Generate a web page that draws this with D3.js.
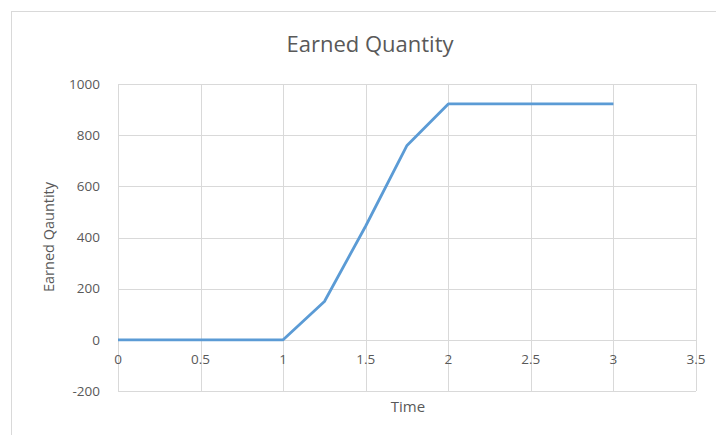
<!DOCTYPE html>
<html>
<head>
<meta charset="utf-8">
<script src="https://cdn.jsdelivr.net/npm/d3@7"></script>
<style>
  html, body { margin: 0; padding: 0; background: #fff; }
  svg { display: block; }
  text { font-family: "Open Sans", "Liberation Sans", sans-serif; fill: #595959; }
</style>
</head>
<body>
<svg id="chart" width="716" height="435"></svg>
<script>
// Series: time vs. earned quantity
const timeValues = [0, 0.5, 1, 1.25, 1.5, 1.75, 2, 2.5, 3];
const earnedValues = [0, 0, 0, 150, 445, 760, 922, 922, 922];
const xTicks = [0, 0.5, 1, 1.5, 2, 2.5, 3, 3.5];
const yTicks = [-200, 0, 200, 400, 600, 800, 1000];
const titleText = "Earned Quantity";
const xTitle = "Time";
const yTitle = "Earned Qauntity";

const svg = d3.select("#chart");
const plot = { left: 118, right: 696, top: 84, bottom: 391 };

const x = d3.scaleLinear().domain([0, 3.5]).range([plot.left, plot.right]);
const y = d3.scaleLinear().domain([-200, 1000]).range([plot.bottom, plot.top]);

// chart frame
svg.append("rect")
  .attr("x", 11.5).attr("y", 11.5)
  .attr("width", 760).attr("height", 460)
  .attr("fill", "#fff").attr("stroke", "#d9d9d9").attr("stroke-width", 1);

// gridlines
svg.append("g").selectAll("line").data(yTicks).join("line")
  .attr("x1", plot.left).attr("x2", plot.right)
  .attr("y1", d => Math.round(y(d)) + 0.5).attr("y2", d => Math.round(y(d)) + 0.5)
  .attr("stroke", "#d9d9d9").attr("stroke-width", 1);
svg.append("g").selectAll("line").data(xTicks).join("line")
  .attr("y1", plot.top).attr("y2", plot.bottom)
  .attr("x1", d => Math.round(x(d)) + 0.5).attr("x2", d => Math.round(x(d)) + 0.5)
  .attr("stroke", "#d9d9d9").attr("stroke-width", 1);

// y tick labels
svg.append("g").selectAll("text").data(yTicks).join("text")
  .attr("x", 100).attr("y", d => y(d))
  .attr("dy", "0.35em")
  .attr("text-anchor", "end")
  .style("font-size", "13.5px")
  .text(d => d);

// x tick labels sit along the zero line
svg.append("g").selectAll("text").data(xTicks).join("text")
  .attr("x", d => x(d)).attr("y", y(0) + 24)
  .attr("text-anchor", "middle")
  .style("font-size", "13.5px")
  .text(d => d);

// series line
const line = d3.line().x((d, i) => x(timeValues[i])).y(d => y(d));
svg.append("path")
  .datum(earnedValues)
  .attr("d", line)
  .attr("fill", "none")
  .attr("stroke", "#5b9bd5")
  .attr("stroke-width", 2.8)
  .attr("stroke-linejoin", "round");

// titles
svg.append("text")
  .attr("x", 370).attr("y", 52)
  .attr("text-anchor", "middle")
  .style("font-size", "22px")
  .text(titleText);
svg.append("text")
  .attr("x", 408).attr("y", 412)
  .attr("text-anchor", "middle")
  .style("font-size", "15px")
  .text(xTitle);
svg.append("text")
  .attr("transform", "translate(54,237) rotate(-90)")
  .attr("text-anchor", "middle")
  .style("font-size", "14.5px")
  .text(yTitle);
</script>
</body>
</html>
